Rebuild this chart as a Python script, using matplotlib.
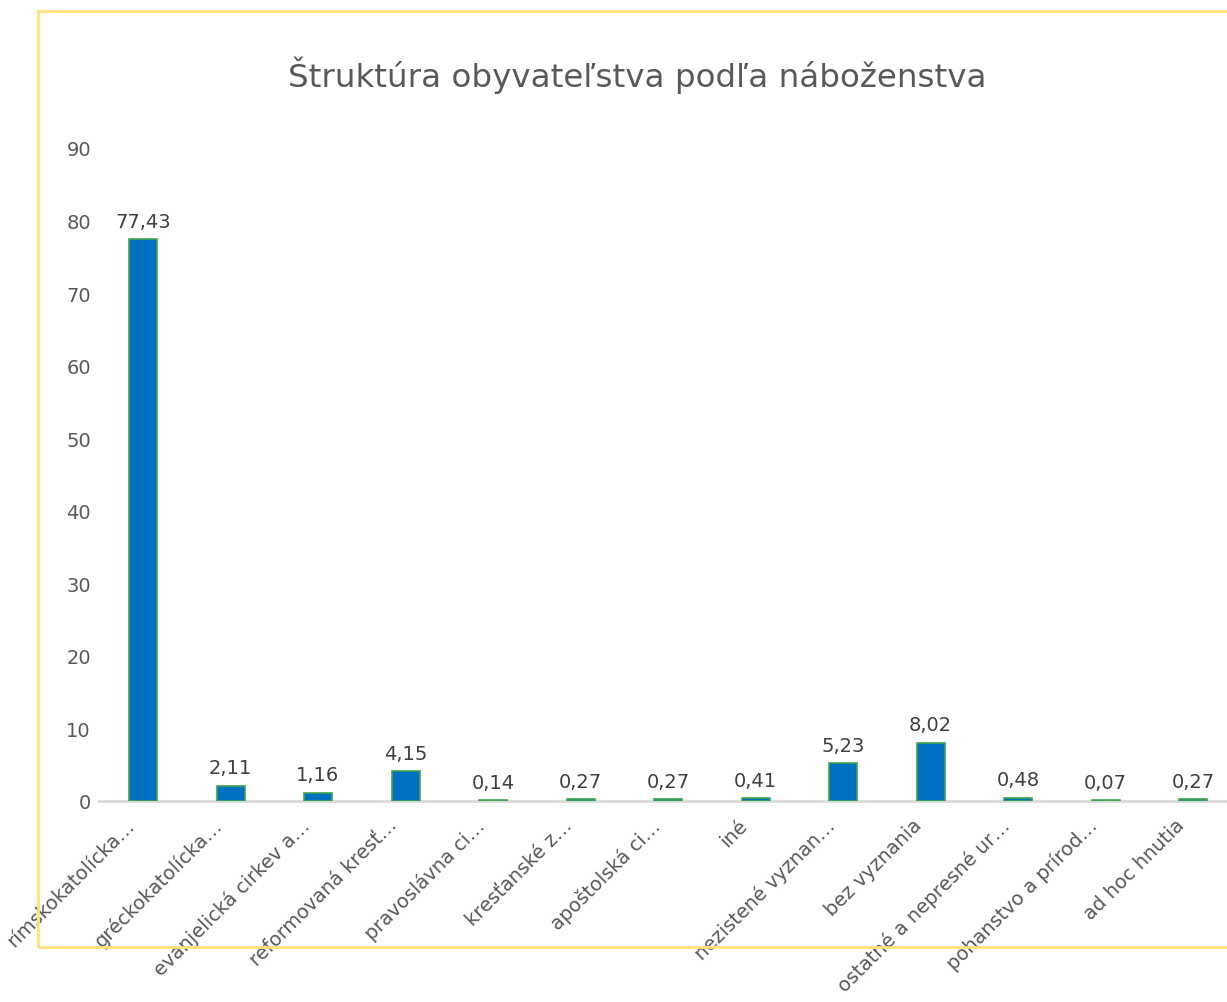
import matplotlib
matplotlib.use("Agg")
import matplotlib.pyplot as plt
from matplotlib.patches import Rectangle
from matplotlib.transforms import ScaledTranslation

categories = ["rímskokatolícka…", "gréckokatolícka…", "evanjelická cirkev a…",
              "reformovaná kresť…", "pravoslávna ci…", "kresťanské z…",
              "apoštolská ci…", "iné", "nezistené vyznan…", "bez vyznania",
              "ostatné a nepresné ur…", "pohanstvo a prírod…", "ad hoc hnutia"]
values = [77.43, 2.11, 1.16, 4.15, 0.14, 0.27, 0.27, 0.41, 5.23, 8.02, 0.48, 0.07, 0.27]
yticks = [0, 10, 20, 30, 40, 50, 60, 70, 80, 90]
title = "Štruktúra obyvateľstva podľa náboženstva"

W, H = 1227, 1003
fig = plt.figure(figsize=(W / 100, H / 100), dpi=100)
plt.rcParams['font.family'] = ['DejaVu Sans']
gray = "#595959"

left = 99.25 / W
width = 13 * 87.5 / W
bottom = 1 - 802 / H
height = (802 - 149) / H
ax = fig.add_axes([left, bottom, width, height])

x = list(range(len(categories)))
bars = ax.bar(x, values, width=0.32, color="#0070C0", edgecolor="#3FA34D", linewidth=1.2, zorder=3)
ax.set_xlim(-0.5, len(categories) - 0.5)
ax.set_ylim(0, 90)
ax.set_yticks(yticks)
ax.set_yticklabels([str(t) for t in yticks], fontsize=14, color=gray)
ax.set_xticks(x)
ax.set_xticklabels(categories, rotation=45, ha="right", va="top", rotation_mode="anchor",
                   fontsize=14, color=gray)
ax.tick_params(axis="both", length=0)
ax.tick_params(axis="y", pad=6)
ax.tick_params(axis="x", pad=10)
offset = ScaledTranslation(-18 / 100, 0, fig.dpi_scale_trans)
for lab in ax.get_xticklabels():
    lab.set_transform(lab.get_transform() + offset)
for s in ["top", "right", "left"]:
    ax.spines[s].set_visible(False)
ax.spines["bottom"].set_color("#D9D9D9")
ax.spines["bottom"].set_linewidth(2)
ax.spines["bottom"].set_zorder(2)

for xi, v in zip(x, values):
    ax.annotate(f"{v:.2f}".replace(".", ","), (xi, v), xytext=(0, 6), textcoords="offset points",
                ha="center", va="bottom", fontsize=14, color="#404040")

fig.text(637 / W, 1 - 75 / H, title, ha="center", va="center", fontsize=23.4, color=gray)

frame = Rectangle((38 / W, 1 - 948 / H), (1300 - 38) / W, (948 - 12) / H,
                  transform=fig.transFigure, fill=False, edgecolor="#FFE27A", linewidth=2,
                  clip_on=False)
fig.patches.append(frame)

fig.savefig("out.png", dpi=100)
